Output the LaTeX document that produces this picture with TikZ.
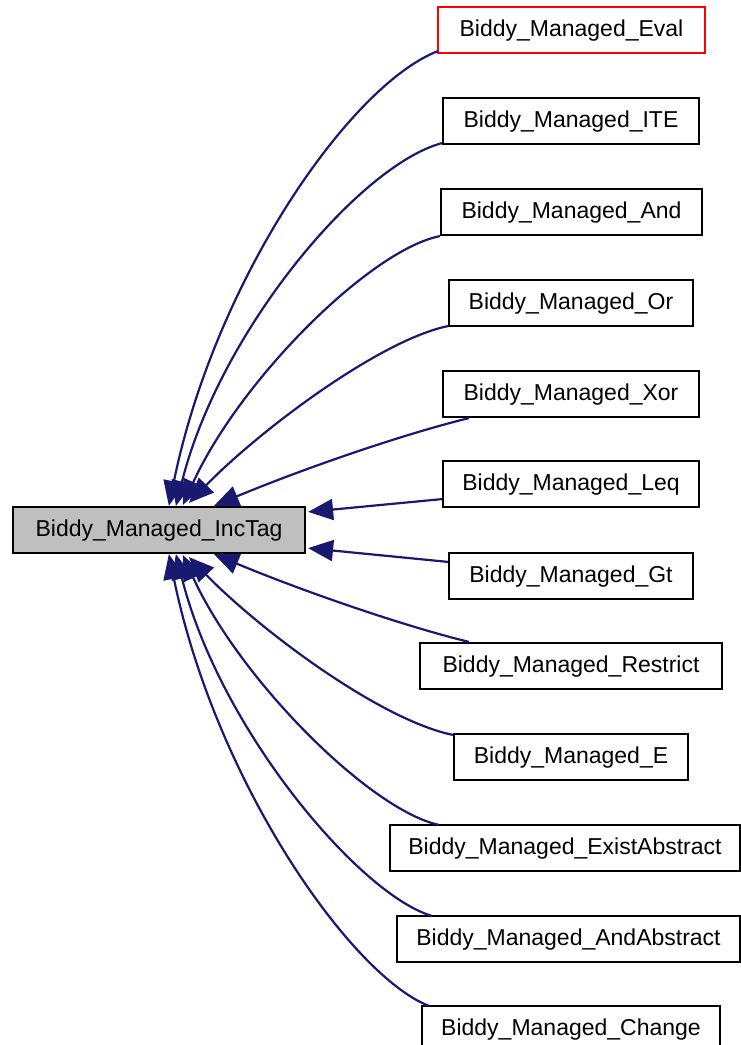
\documentclass[tikz,border=0pt]{standalone}
\usepackage{fontspec}
\setmainfont{Liberation Sans}
\usetikzlibrary{arrows.meta,calc}
\definecolor{edgeblue}{HTML}{191970}
\definecolor{boxgray}{HTML}{BFBFBF}
\tikzset{
  fn/.style={draw=black, line width=2.2pt, rectangle, minimum height=46pt,
    inner sep=0pt, text height=16pt, text depth=3pt,
    font=\fontsize{23}{27}\selectfont, fill=white},
  calls/.style={draw=edgeblue, line width=2.2pt,
    -{Triangle[length=25pt,width=21pt]}, edgeblue}
}
\begin{document}
\begin{tikzpicture}[x=1pt,y=-1pt]
\useasboundingbox (0,0) rectangle (741,1045);

% caller functions, one per row
\node[fn, draw=red, minimum width=267pt] (eval)  at (571.5,30)  {Biddy\_Managed\_Eval};
\node[fn, minimum width=256pt] (ite)      at (571,121)  {Biddy\_Managed\_ITE};
\node[fn, minimum width=261pt] (and)      at (571.5,212) {Biddy\_Managed\_And};
\node[fn, minimum width=244pt] (or)       at (571,303)  {Biddy\_Managed\_Or};
\node[fn, minimum width=256pt] (xor)      at (571,394)  {Biddy\_Managed\_Xor};
\node[fn, minimum width=256pt] (leq)      at (571,484)  {Biddy\_Managed\_Leq};
\node[fn, minimum width=244pt] (gt)       at (571,576)  {Biddy\_Managed\_Gt};
\node[fn, minimum width=302pt] (restrict) at (571,666)  {Biddy\_Managed\_Restrict};
\node[fn, minimum width=234pt] (e)        at (571,757)  {Biddy\_Managed\_E};
\node[fn, minimum width=350pt] (exist)    at (565,848)  {Biddy\_Managed\_ExistAbstract};
\node[fn, minimum width=343pt] (andabs)   at (568.5,939) {Biddy\_Managed\_AndAbstract};
\node[fn, minimum width=298pt] (change)   at (571,1029) {Biddy\_Managed\_Change};

% the called function
\node[fn, fill=boxgray, minimum width=292pt] (inc) at (159,530) {Biddy\_Managed\_IncTag};

% call edges, ending on the called function
\draw[calls] ($(eval.south west)+(1,-3)$) .. controls (350,85) and (215,280) .. ($(inc.north west)+(157,0)$);
\draw[calls] ($(ite.south west)+(0,-2)$) .. controls (360,165) and (220,330) .. ($(inc.north west)+(164,0)$);
\draw[calls] ($(and.south west)+(0,-0)$) .. controls (370,250) and (240,380) .. ($(inc.north west)+(171,-1)$);
\draw[calls] ($(or.south west)+(0,-1)$) .. controls (380,340) and (260,430) .. ($(inc.north west)+(177,-3)$);
\draw[calls] ($(xor.south west)+(27,0)$) .. controls (400,435) and (300,470) .. ($(inc.north west)+(202,0)$);
\draw[calls] ($(leq.south west)+(0,-9)$) -- ($(inc.north east)+(2,6)$);
\draw[calls] ($(gt.north west)+(0,10)$) -- ($(inc.south east)+(2,-6)$);
\draw[calls] ($(restrict.north west)+(50,0)$) .. controls (400,625) and (300,590) .. ($(inc.south west)+(202,0)$);
\draw[calls] ($(e.north west)+(0,2)$) .. controls (380,720) and (260,630) .. ($(inc.south west)+(177,3)$);
\draw[calls] ($(exist.north west)+(50,1)$) .. controls (370,810) and (240,680) .. ($(inc.south west)+(171,1)$);
\draw[calls] ($(andabs.north west)+(36,1)$) .. controls (360,895) and (220,730) .. ($(inc.south west)+(164,0)$);
\draw[calls] ($(change.north west)+(8,1)$) .. controls (350,975) and (215,780) .. ($(inc.south west)+(157,0)$);
\end{tikzpicture}
\end{document}
